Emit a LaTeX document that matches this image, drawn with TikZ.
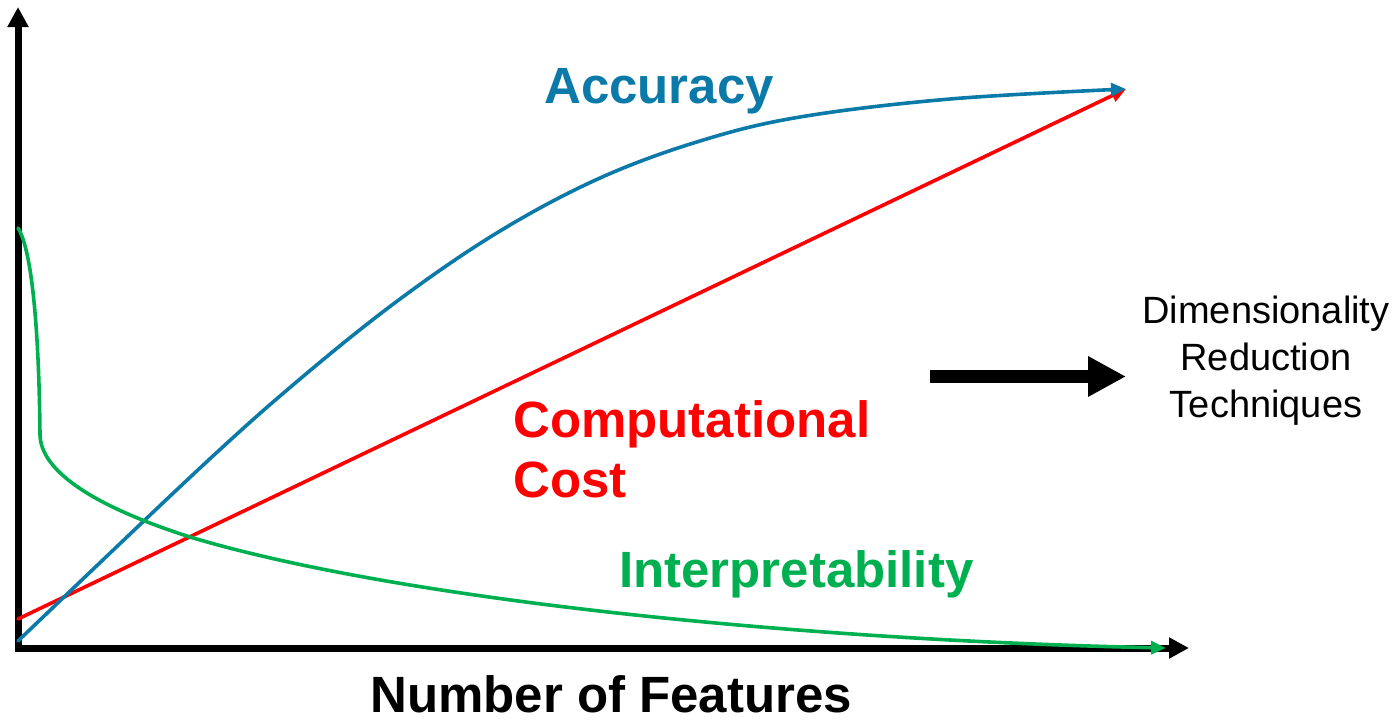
\documentclass[tikz,border=0pt]{standalone}
\usepackage{fontspec}
\setmainfont{Liberation Sans}
\usetikzlibrary{arrows.meta}
\definecolor{accblue}{RGB}{12,122,168}
\definecolor{costred}{RGB}{255,0,0}
\definecolor{intgreen}{RGB}{0,176,80}
\begin{document}
\begin{tikzpicture}[x=1pt,y=-1pt,
  axis/.style={line width=7pt,-{Triangle[length=20pt,width=20pt]}},
  curve/.style={line width=3.6pt,line cap=round,-{Triangle[length=15pt,width=13pt]}},
  biglabel/.style={font=\fontsize{51}{60}\selectfont\bfseries,inner sep=0pt,align=left},
  sidelabel/.style={font=\fontsize{38}{47}\selectfont,inner sep=0pt,align=center}]
\useasboundingbox (0,0) rectangle (1397,720);
% axes
\coordinate (ybot) at (18,652);
\coordinate (ytop) at (18,7);
\coordinate (xleft) at (15,648);
\coordinate (xright) at (1189,648);
\draw[axis] (ybot) -- (ytop);
\draw[axis] (xleft) -- (xright);
% curves
\coordinate (rs) at (18,619);
\coordinate (re) at (1126,89);
\draw[curve,costred] (rs) -- (re);
\coordinate (bs) at (18,641);
\coordinate (be) at (1126,89);
\draw[curve,accblue] plot[smooth,tension=0.6] coordinates {(bs) (200,468) (300,379) (400,299) (500,231) (600,178) (700,141) (800,117) (950,99) (be)};
\coordinate (gs) at (18,228);
\coordinate (ge) at (1166,648);
\draw[curve,intgreen] (gs) .. controls (32,250) and (39,330) .. (40,435)
   .. controls (41,470) and (90,505) .. (190,537)
   .. controls (400,600) and (800,640) .. (ge);
% big arrow
\coordinate (as) at (930,376.5);
\coordinate (ae) at (1126,376.5);
\draw[line width=13pt,-{Triangle[length=38pt,width=38pt]}] (as) -- (ae);
% labels
\node[biglabel,accblue,anchor=base west] (acc) at (544,103) {Accuracy};
\node[biglabel,costred,anchor=base west] (cost) at (513,497) {Computational\\Cost};
\node[biglabel,intgreen,anchor=base west] (interp) at (619,587) {Interpretability};
\node[biglabel,anchor=base west] (nf) at (370,712) {Number of Features};
\node[sidelabel,anchor=base] (dr) at (1266,417) {Dimensionality\\Reduction\\Techniques};
\end{tikzpicture}
\end{document}
